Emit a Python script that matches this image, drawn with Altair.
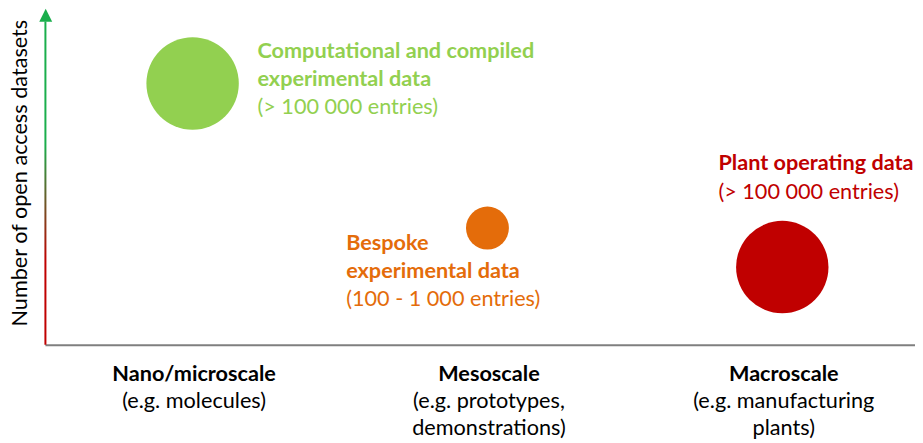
import altair as alt
import pandas as pd

# ---------------- data ----------------
scales = ["Nano/microscale", "Mesoscale", "Macroscale"]
scale_examples = [["(e.g. molecules)"],
                  ["(e.g. prototypes,", "demonstrations)"],
                  ["(e.g. manufacturing", "plants)"]]

dataset_titles = [["Computational and compiled", "experimental data"],
                  ["Bespoke", "experimental data"],
                  ["Plant operating data"]]
dataset_entries = ["(> 100 000 entries)", "(100 - 1 000 entries)", "(> 100 000 entries)"]
dataset_scale = ["Nano/microscale", "Mesoscale", "Macroscale"]
open_access = [77.7, 34.7, 23.1]          # relative number of open access datasets
dataset_volume = [100000, 1000, 100000]   # entries per dataset
colors = ["#92d050", "#e46c0a", "#c00000"]

y_title = "Number of open access datasets"

# ---------------- style ----------------
FONT = "Lato"
FS = 21.7
LINE_H = 28.3
GREEN = "#1aae4c"
RED = "#c00000"
ARROW_TOP = 96.1
ARROW_TIP = 98.0
LABEL_OFFSETS = [(65, -25.5), (-141.6, 22), (-64, -97)]
XLAB_DY = [36, 63.3, 90]

xscale = alt.Scale(type="point", domain=scales, padding=0.4755, align=0.5267)
yscale = alt.Scale(domain=[0, 100])
xaxis = alt.Axis(labels=False, ticks=False, title=None, grid=False,
                 domainColor="#7f7f7f", domainWidth=2)
yaxis = alt.Axis(labels=False, ticks=False, domain=False, grid=False,
                 title=y_title, titleFont=FONT, titleFontSize=FS,
                 titleFontWeight="normal", titleColor="#000000",
                 titleAngle=270, titleBaseline="alphabetic", titleAlign="center",
                 titleX=-18.5, titleY=164.5)

X = alt.X("scale:N", scale=xscale, axis=xaxis)
Y = alt.Y("value:Q", scale=yscale, axis=yaxis)

bubbles_df = pd.DataFrame({"scale": dataset_scale, "value": open_access,
                           "volume": dataset_volume, "color": colors})

bubbles = alt.Chart(bubbles_df).mark_circle(opacity=1).encode(
    x=X, y=Y,
    size=alt.Size("volume:Q", scale=alt.Scale(domain=[1000, 100000], range=[1849, 8575], zero=False), legend=None),
    color=alt.Color("color:N", scale=None),
)

# y-axis arrow with gradient shaft
shaft_df = pd.DataFrame({"scale": [scales[0]], "value": [0], "top": [ARROW_TOP]})
shaft = alt.Chart(shaft_df).mark_rect(
    fill=alt.Gradient(gradient="linear",
                      stops=[alt.GradientStop(color=GREEN, offset=0),
                             alt.GradientStop(color=GREEN, offset=0.38),
                             alt.GradientStop(color=RED, offset=0.74),
                             alt.GradientStop(color=RED, offset=1)],
                      x1=0, x2=0, y1=0, y2=1)
).encode(x=alt.value(-0.5), x2=alt.value(1.5), y=Y, y2="top:Q")

head_df = pd.DataFrame({"scale": [scales[0]], "value": [ARROW_TIP]})
head = alt.Chart(head_df).mark_point(shape="M0,-1L1,1L-1,1Z", filled=True, size=169,
                                     color=GREEN, opacity=1).encode(x=alt.value(0.8), y=Y)

layers = [shaft, head, bubbles]

# dataset annotations
for i in range(len(dataset_scale)):
    row = pd.DataFrame({"scale": [dataset_scale[i]], "value": [open_access[i]]})
    lines = [(t, "bold") for t in dataset_titles[i]] + [(dataset_entries[i], "normal")]
    ox, oy = LABEL_OFFSETS[i]
    for j, (t, w) in enumerate(lines):
        layers.append(alt.Chart(row).mark_text(
            text=t, align="left", baseline="alphabetic", dx=ox, dy=oy + j * LINE_H,
            font=FONT, fontSize=FS, fontWeight=w, color=colors[i]
        ).encode(x=X, y=Y))

# x category labels
for j in range(3):
    rows = []
    for k, s in enumerate(scales):
        lines = [s] + scale_examples[k]
        if j < len(lines):
            rows.append({"scale": s, "value": 0, "label": lines[j]})
    df = pd.DataFrame(rows)
    layers.append(alt.Chart(df).mark_text(
        align="center", baseline="alphabetic", dx=1.5, dy=XLAB_DY[j],
        font=FONT, fontSize=FS, fontWeight="bold" if j == 0 else "normal", color="#000000"
    ).encode(x=X, y=Y, text="label:N"))

chart = alt.layer(*layers).properties(
    width=872, height=337,
    padding={"left": 37, "top": 0, "right": 0, "bottom": 98},
    autosize=alt.AutoSizeParams(type="none"),
).configure_view(stroke=None)

chart.save("out.html", embed_options={"renderer": "svg", "actions": False})
